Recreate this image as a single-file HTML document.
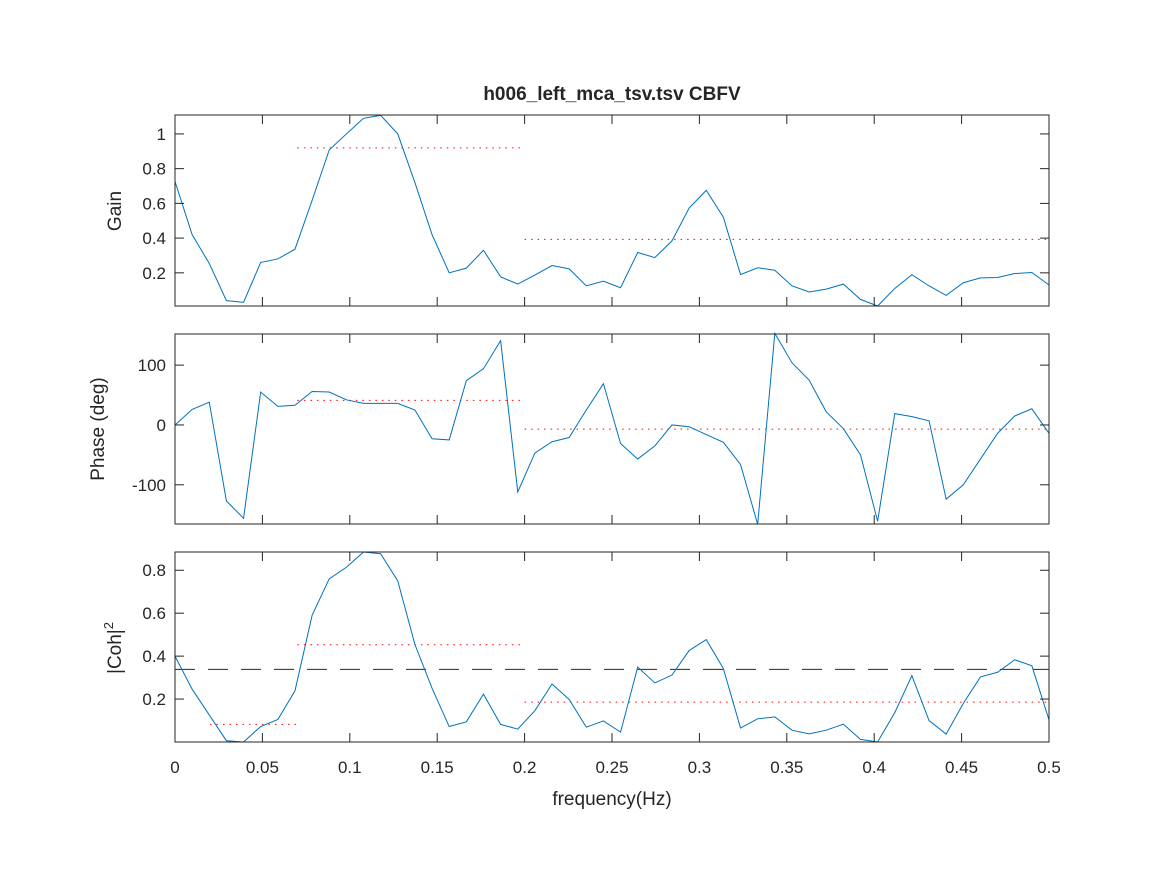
<!DOCTYPE html>
<html><head><meta charset="utf-8"><style>
body{margin:0;background:#fff;}
svg text{font-family:"Liberation Sans",Arial,sans-serif;fill:#262626;}
</style></head><body>
<svg id="fig" width="1167" height="875" xmlns="http://www.w3.org/2000/svg">
<rect width="1167" height="875" fill="#fff"/>
<text x="612" y="100" font-size="19" font-weight="bold" text-anchor="middle">h006_left_mca_tsv.tsv CBFV</text>
<g id="panels"></g>
<text x="612" y="805" font-size="19" text-anchor="middle">frequency(Hz)</text>
</svg>
<script>
const gain = [0.726,0.42,0.254,0.04,0.03,0.26,0.28,0.336,0.617,0.908,1.0,1.09,1.107,1.0,0.72,0.42,0.20,0.227,0.33,0.177,0.135,0.187,0.242,0.223,0.125,0.152,0.114,0.317,0.288,0.384,0.573,0.675,0.52,0.19,0.229,0.215,0.125,0.09,0.106,0.135,0.047,0.009,0.11,0.189,0.125,0.07,0.143,0.171,0.173,0.196,0.202,0.13];
const phase = [0,26,38,-127,-156,55,31,33,56,55,42,36,36,36,25,-23,-25,74,94,141,-112,-47,-28,-21,25,69,-31,-57,-35,0,-3,-16,-29,-66,-166,153,104,75,22,-6,-50,-161,19,14,7,-124,-100,-57,-14,15,27,-14];
const coh = [0.40,0.246,0.126,0.006,0,0.072,0.105,0.238,0.59,0.76,0.814,0.885,0.877,0.75,0.454,0.25,0.072,0.094,0.223,0.082,0.06,0.146,0.27,0.198,0.069,0.098,0.046,0.349,0.275,0.312,0.426,0.477,0.342,0.065,0.108,0.117,0.055,0.038,0.055,0.083,0.012,0,0.137,0.309,0.1,0.037,0.18,0.303,0.325,0.383,0.355,0.103];
const xTicks = [0,0.05,0.1,0.15,0.2,0.25,0.3,0.35,0.4,0.45,0.5];
const xTickLabels = ["0","0.05","0.1","0.15","0.2","0.25","0.3","0.35","0.4","0.45","0.5"];
const gainTicks = [0.2,0.4,0.6,0.8,1];
const gainTickLabels = ["0.2","0.4","0.6","0.8","1"];
const phaseTicks = [-100,0,100];
const phaseTickLabels = ["-100","0","100"];
const cohTicks = [0.2,0.4,0.6,0.8];
const cohTickLabels = ["0.2","0.4","0.6","0.8"];
const gainMeans = [[0.07,0.2,0.92],[0.2,0.5,0.393]];
const phaseMeans = [[0.07,0.2,41],[0.2,0.5,-7]];
const cohMeans = [[0.02,0.07,0.082],[0.07,0.2,0.453],[0.2,0.5,0.186]];
const cohThreshold = 0.338;
const fMax = 0.5;

const NS="http://www.w3.org/2000/svg";
const L=175,R=1049;
const xs=f=>L+(f/fMax)*(R-L);
const root=document.getElementById('panels');
function mk(tag,attrs,parent){const e=document.createElementNS(NS,tag);for(const k in attrs)e.setAttribute(k,attrs[k]);(parent||root).appendChild(e);return e;}
function panel(name,top,bot,ymin,ymax,data,ticks,labels,means,ylabel,showX){
  const g=mk('g',{});
  
  
  const ys=v=>bot-(v-ymin)/(ymax-ymin)*(bot-top);
  const n=data.length;
  const pts=data.map((v,i)=>xs(i*fMax/(n-1)).toFixed(2)+','+ys(v).toFixed(2)).join(' ');
  means.forEach(m=>{
    const ln=mk('line',{x1:xs(m[0]),x2:xs(m[1]),y1:ys(m[2]),y2:ys(m[2]),stroke:'#ff0000','stroke-width':1,'stroke-dasharray':'1.5,5'},g);
    
    
  });
  if(name==='coherence'){
    const th=mk('line',{x1:L,x2:R,y1:ys(cohThreshold),y2:ys(cohThreshold),stroke:'#262626','stroke-width':1,'stroke-dasharray':'20,13'},g);
    
    
  }
  const pl=mk('polyline',{points:pts,fill:'none',stroke:'#0072bd','stroke-width':1},g);
  
  
  const box=mk('rect',{x:L,y:top,width:R-L,height:bot-top,fill:'none',stroke:'#262626','stroke-width':1},g);
  
  
  xTicks.forEach((t,i)=>{
    const x=xs(t);
    mk('line',{x1:x,x2:x,y1:bot,y2:bot-9,stroke:'#262626'},g);
    mk('line',{x1:x,x2:x,y1:top,y2:top+9,stroke:'#262626'},g);
    if(showX){
      const tx=mk('text',{x:x,y:bot+31,'font-size':17,'text-anchor':'middle'},g);
      tx.textContent=xTickLabels[i];
      
      
    }
  });
  ticks.forEach((t,i)=>{
    const y=ys(t);
    mk('line',{x1:L,x2:L+9,y1:y,y2:y,stroke:'#262626'},g);
    mk('line',{x1:R,x2:R-9,y1:y,y2:y,stroke:'#262626'},g);
    const tx=mk('text',{x:L-9,y:y+6,'font-size':17,'text-anchor':'end'},g);
    tx.textContent=labels[i];
    
    
  });
  return g;
}
panel('gain',115,306,0.009,1.109,gain,gainTicks,gainTickLabels,gainMeans,'Gain',false);
panel('phase',334,524,-165.5,152,phase,phaseTicks,phaseTickLabels,phaseMeans,'Phase (deg)',false);
panel('coherence',552,742,0.0,0.885,coh,cohTicks,cohTickLabels,cohMeans,'|Coh|2',true);
function ylab(x,y,txt,nm,sup){
  const t=mk('text',{x:0,y:0,'font-size':19,'text-anchor':'middle',transform:'translate('+x+','+y+') rotate(-90)'});
  t.textContent=txt;
  if(sup){const s=mk('tspan',{'font-size':13,dy:-8},t);s.textContent=sup;}
  
  
}
ylab(121,211,'Gain','gain-y-axis-title');
ylab(104,429,'Phase (deg)','phase-y-axis-title');
ylab(121,648,'|Coh|','coherence-y-axis-title','2');
</script>
</body></html>
